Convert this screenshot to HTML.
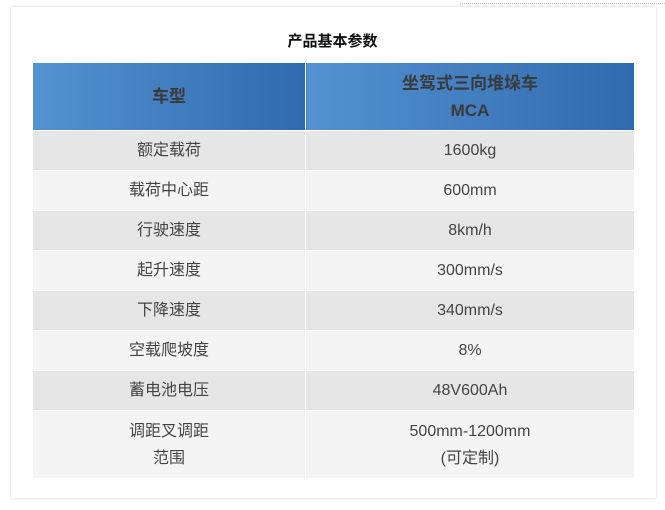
<!DOCTYPE html><html><head><meta charset="utf-8"><style>
body{margin:0;width:665px;height:510px;background:#fff;font-family:"Liberation Sans","Noto Sans CJK SC",sans-serif;position:relative;overflow:hidden}
.card{position:absolute;left:11px;top:7px;width:645px;height:491px;background:#fff;box-shadow:0 0 3px rgba(0,0,0,.18)}
.dots{position:absolute;left:460px;top:3px;width:205px;border-top:1px dotted #c8c8c8}
.title{position:absolute;left:0;width:665px;top:30px;text-align:center;font-size:15px;font-weight:bold;color:#111}
table{position:absolute;left:33px;top:63px;border-collapse:collapse;width:601px;font-size:16px;color:#444}
td{text-align:center;padding:0;border:1px solid #fff;line-height:27px}
td:first-child{width:272px;border-left:none}
td:last-child{border-right:none}
.h td{height:67px;background:linear-gradient(90deg,#5592d1,#2f6aae);font-weight:bold;color:#3a3a3a;font-size:17px;border-top:none}
.a td{background:#e6e6e6;height:39px}
.b td{background:#f4f4f4;height:39px}
</style></head><body>
<div class="dots"></div>
<div class="card"></div>
<div class="title">产品基本参数</div>
<table>
<tr class="h"><td>车型</td><td>坐驾式三向堆垛车<br>MCA</td></tr>
<tr class="a"><td>额定载荷</td><td>1600kg</td></tr>
<tr class="b"><td>载荷中心距</td><td>600mm</td></tr>
<tr class="a"><td>行驶速度</td><td>8km/h</td></tr>
<tr class="b"><td>起升速度</td><td>300mm/s</td></tr>
<tr class="a"><td>下降速度</td><td>340mm/s</td></tr>
<tr class="b"><td>空载爬坡度</td><td>8%</td></tr>
<tr class="a"><td>蓄电池电压</td><td>48V600Ah</td></tr>
<tr class="b"><td style="height:67px">调距叉调距<br>范围</td><td>500mm-1200mm<br>(可定制)</td></tr>
</table>
</body></html>
